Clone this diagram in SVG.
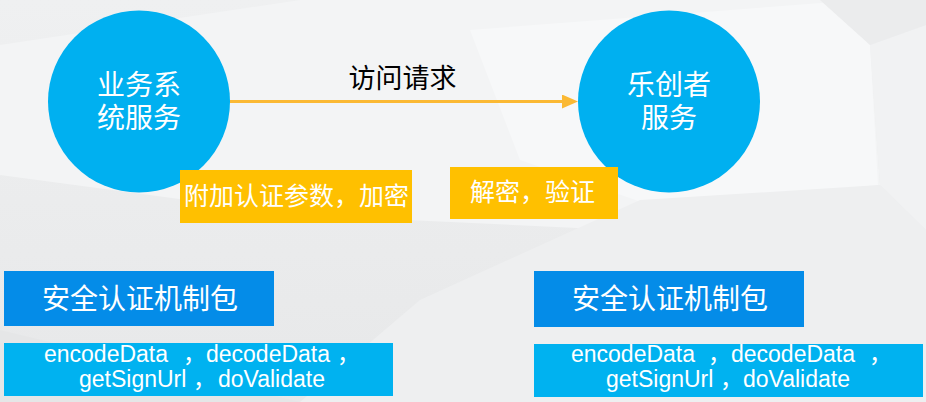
<svg xmlns="http://www.w3.org/2000/svg" width="926" height="402" viewBox="0 0 926 402">
  <defs>
    <linearGradient id="bg" x1="0" y1="0" x2="0" y2="1">
      <stop offset="0" stop-color="#EFF0F1"/>
      <stop offset="1" stop-color="#E7E8E9"/>
    </linearGradient>
    <marker id="arrow" markerUnits="userSpaceOnUse" markerWidth="16" markerHeight="14" refX="8" refY="7" orient="auto">
      <path d="M0,0 L16,7 L0,14 Z" fill="#FBB934"/>
    </marker>
    <style>
      .node-circle { fill: #00B0F0; }
      .yellow { fill: #FFC000; }
      .blue { fill: #048CE8; }
      .lightblue { fill: #00B2F0; }
      .cjk { font-family: "Liberation Sans", "Noto Sans CJK SC", sans-serif; fill: #FFFFFF; }
      .mono { font-family: "Liberation Sans", "Noto Sans CJK SC", sans-serif; fill: #FFFFFF; font-size: 23px; }
    </style>
  </defs>

  <!-- background -->
  <g id="background">
    <rect x="0" y="0" width="926" height="402" fill="url(#bg)"/>
    <polygon points="0,45 300,0 860,0 870,45 880,185 620,230 300,215 0,175" fill="#F3F4F5"/>
    <polygon points="470,30 860,0 870,45 878,185 650,205 520,160" fill="#F7F8F9"/>
    <polygon points="640,200 880,185 926,230 926,402 300,402 420,300" fill="#EEEFF0"/>
    <polygon points="0,330 300,402 0,402" fill="#E5E6E7"/>
    <polygon points="870,45 926,25 926,230 880,185" fill="#F1F2F3"/>
    <polygon points="820,0 926,0 926,25 870,45" fill="#EBECED"/>
  </g>

  <!-- connectors -->
  <g id="connectors">
    <line x1="230" y1="101.5" x2="570" y2="101.5" stroke="#FBB934" stroke-width="3" marker-end="url(#arrow)"/>
    <text x="402.5" y="88" font-family="Liberation Sans, Noto Sans CJK SC, sans-serif" font-size="27" fill="#000000" text-anchor="middle">访问请求</text>
  </g>

  <g id="node-business">
    <circle class="node-circle" cx="139" cy="101.5" r="91"/>
    <text class="cjk" font-size="28" text-anchor="middle"><tspan x="139" y="95">业务系</tspan><tspan x="139" y="128">统服务</tspan></text>
  </g>

  <g id="node-lechuangzhe">
    <circle class="node-circle" cx="669" cy="101.5" r="91"/>
    <text class="cjk" font-size="28" text-anchor="middle"><tspan x="669" y="95">乐创者</tspan><tspan x="669" y="128">服务</tspan></text>
  </g>

  <g id="note-encrypt">
    <rect class="yellow" x="180" y="170" width="232" height="53"/>
    <text class="cjk" x="184" y="205" font-size="25">附加认证参数，加密</text>
  </g>

  <g id="note-decrypt">
    <rect class="yellow" x="450" y="167" width="168" height="52"/>
    <text class="cjk" x="470" y="201" font-size="25">解密，验证</text>
  </g>

  <g id="pkg-left">
    <rect class="blue" x="4" y="271" width="270" height="55"/>
    <text class="cjk" x="42" y="309" font-size="28">安全认证机制包</text>
  </g>

  <g id="methods-left">
    <rect class="lightblue" x="4" y="343" width="389" height="53"/>
    <text class="mono" y="362"><tspan x="44">encodeData </tspan><tspan x="183">，</tspan><tspan x="206">decodeData </tspan><tspan x="337">，</tspan></text>
    <text class="mono" y="387"><tspan x="79">getSignUrl</tspan><tspan x="193">，</tspan><tspan x="218">doValidate</tspan></text>
  </g>

  <g id="pkg-right">
    <rect class="blue" x="534" y="271" width="270" height="56"/>
    <text class="cjk" x="572" y="309" font-size="28">安全认证机制包</text>
  </g>

  <g id="methods-right">
    <rect class="lightblue" x="534" y="344" width="389" height="53"/>
    <text class="mono" y="362"><tspan x="571">encodeData </tspan><tspan x="708">，</tspan><tspan x="731">decodeData </tspan><tspan x="869">，</tspan></text>
    <text class="mono" y="387"><tspan x="606">getSignUrl</tspan><tspan x="720">，</tspan><tspan x="743">doValidate</tspan></text>
  </g>
</svg>
